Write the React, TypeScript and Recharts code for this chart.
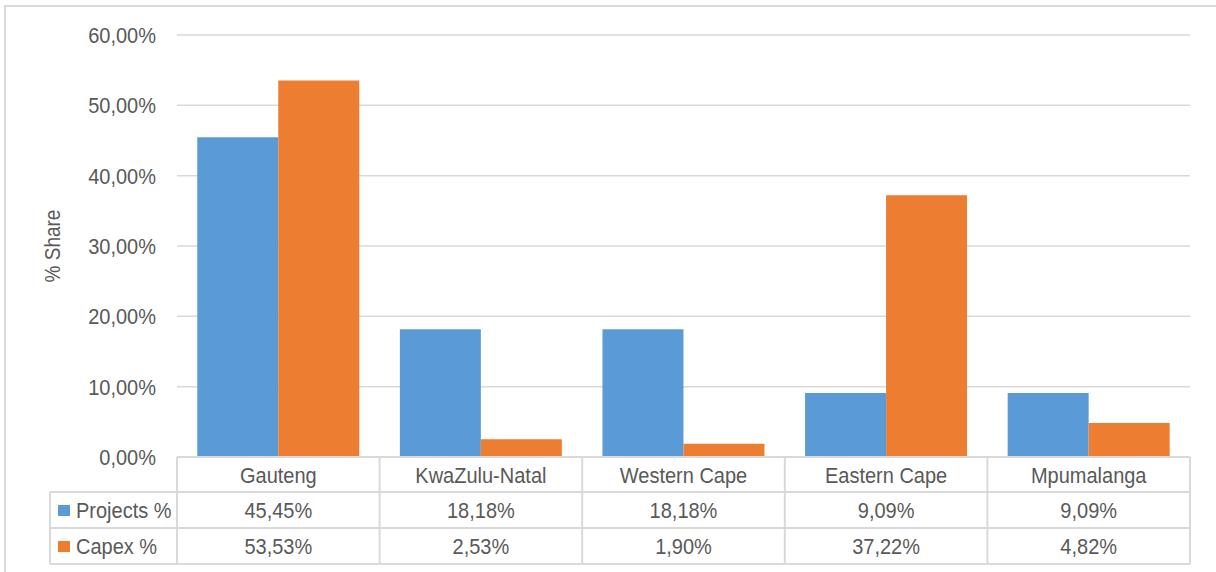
import React from "react";
import { BarChart, Bar, XAxis, YAxis, CartesianGrid } from "recharts";

// Province shares: projects vs capex
const provinces = ["Gauteng", "KwaZulu-Natal", "Western Cape", "Eastern Cape", "Mpumalanga"];
const projectsPct = [45.45, 18.18, 18.18, 9.09, 9.09];
const capexPct = [53.53, 2.53, 1.9, 37.22, 4.82];
const yTicks = [0, 10, 20, 30, 40, 50, 60];

const data = provinces.map((p, i) => ({
  province: p,
  projects: projectsPct[i],
  capex: capexPct[i],
}));

const WIDTH = 1216;
const HEIGHT = 572;
const MARGIN = { top: 35, right: 26, left: 0, bottom: 0 };
const Y_AXIS_W = 177;
const X_AXIS_H = 115;
const PLOT_LEFT = MARGIN.left + Y_AXIS_W;
const PLOT_RIGHT = WIDTH - MARGIN.right;
const CELL_W = (PLOT_RIGHT - PLOT_LEFT) / provinces.length;

const BLUE = "#5b9bd5";
const ORANGE = "#ed7d31";
const GRID = "#d9d9d9";
const TEXT = "#595959";
const FONT = "'Liberation Sans', Arial, sans-serif";
const STRETCH = 1.13; // the source text is a bit taller than plain Arial

// Row layout of the data table under the axis (relative to the axis line)
const ROW_H = [35, 36, 36];
const LEGEND_LEFT = 50;

function fmt(v: number): string {
  return `${v.toFixed(2).replace(".", ",")}%`;
}

// text centred vertically on (x, y), stretched a little in height
function Label({ x, y, anchor, children, rotate = 0, size = 20 }: any) {
  return (
    <g transform={`translate(${x},${y}) rotate(${rotate}) scale(1,${STRETCH})`}>
      <text
        x={0}
        y={0}
        dy="0.36em"
        textAnchor={anchor}
        fill={TEXT}
        fontSize={size}
        fontFamily={FONT}
      >
        {children}
      </text>
    </g>
  );
}

function YTick(props: any) {
  const { x, y, payload } = props;
  return <Label x={x} y={y} anchor="end">{fmt(payload.value)}</Label>;
}

function YTitle(props: any) {
  const { viewBox } = props;
  const cy = viewBox.y + viewBox.height / 2;
  return (
    <Label x={52} y={cy} anchor="middle" rotate={-90} size={19}>
      % Share
    </Label>
  );
}

// Each x tick draws its own column of the data table
function TableTick(props: any) {
  const { x, y, payload, index } = props;
  const left = x - CELL_W / 2;
  const right = x + CELL_W / 2;
  const r1 = y + ROW_H[0];
  const r2 = r1 + ROW_H[1];
  const r3 = r2 + ROW_H[2];
  const line = { stroke: GRID, strokeWidth: 2 };

  return (
    <g>
      {index === 0 && (
        <g>
          <line x1={left} y1={y} x2={left} y2={r3} {...line} />
          <line x1={LEGEND_LEFT} y1={r1} x2={left} y2={r1} {...line} />
          <line x1={LEGEND_LEFT} y1={r2} x2={left} y2={r2} {...line} />
          <line x1={LEGEND_LEFT} y1={r3} x2={left} y2={r3} {...line} />
          <line x1={LEGEND_LEFT} y1={r1} x2={LEGEND_LEFT} y2={r3} {...line} />
          <rect x={58} y={r1 + 13} width={12} height={11} fill={BLUE} />
          <Label x={76} y={r1 + ROW_H[1] / 2} anchor="start">Projects %</Label>
          <rect x={58} y={r2 + 13} width={12} height={11} fill={ORANGE} />
          <Label x={76} y={r2 + ROW_H[2] / 2} anchor="start">Capex %</Label>
        </g>
      )}
      <line x1={right} y1={y} x2={right} y2={r3} {...line} />
      <line x1={left} y1={r1} x2={right} y2={r1} {...line} />
      <line x1={left} y1={r2} x2={right} y2={r2} {...line} />
      <line x1={left} y1={r3} x2={right} y2={r3} {...line} />
      <Label x={x} y={y + ROW_H[0] / 2} anchor="middle">{payload.value}</Label>
      <Label x={x} y={r1 + ROW_H[1] / 2} anchor="middle">{fmt(projectsPct[index])}</Label>
      <Label x={x} y={r2 + ROW_H[2] / 2} anchor="middle">{fmt(capexPct[index])}</Label>
    </g>
  );
}

export default function App() {
  return (
    <div
      style={{
        position: "absolute",
        left: 0,
        top: 0,
        width: WIDTH,
        height: HEIGHT,
        background: "#fff",
        overflow: "hidden",
      }}
    >
      {/* chart frame, only left and top edges fall inside the picture */}
      <div
        style={{
          position: "absolute",
          left: 4,
          top: 5,
          width: WIDTH,
          height: HEIGHT,
          borderLeft: `2px solid ${GRID}`,
          borderTop: `2px solid ${GRID}`,
        }}
      />
      <div style={{ position: "absolute", left: 0, top: 0 }}>
        <BarChart
          width={WIDTH}
          height={HEIGHT}
          data={data}
          margin={MARGIN}
          barCategoryGap="10%"
          barGap={0}
        >
          <CartesianGrid vertical={false} stroke={GRID} strokeWidth={1.5} />
          <XAxis
            dataKey="province"
            height={X_AXIS_H}
            interval={0}
            tickLine={false}
            tickSize={0}
            tickMargin={0}
            axisLine={{ stroke: GRID, strokeWidth: 2 }}
            tick={<TableTick />}
          />
          <YAxis
            width={Y_AXIS_W}
            domain={[0, 60]}
            ticks={yTicks}
            axisLine={false}
            tickLine={false}
            tickSize={0}
            tickMargin={21}
            tick={<YTick />}
            label={<YTitle />}
          />
          <Bar dataKey="projects" fill={BLUE} isAnimationActive={false} />
          <Bar dataKey="capex" fill={ORANGE} isAnimationActive={false} />
        </BarChart>
      </div>
    </div>
  );
}
